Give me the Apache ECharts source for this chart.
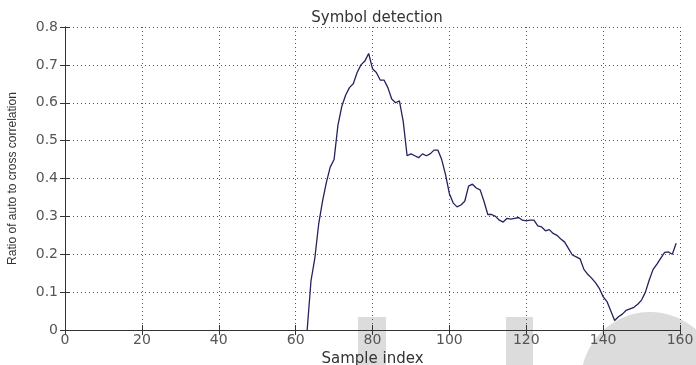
<!DOCTYPE html>
<html>
<head>
<meta charset="utf-8">
<title>Symbol detection</title>
<script src="https://cdn.jsdelivr.net/npm/echarts@6/dist/echarts.min.js"></script>
<style>
  html, body { margin: 0; padding: 0; background: #ffffff; }
  #chart { width: 696px; height: 365px; }
</style>
</head>
<body>
<div id="chart"></div>
<script>
// Sample positions of the detection metric
const sampleIndex = [
  63, 64, 65, 66, 67, 68, 69, 70, 71, 72, 73, 74, 75, 76, 77, 78, 79, 80,
  81, 82, 83, 84, 85, 86, 87, 88, 89, 90, 91, 92, 93, 94, 95, 96, 97, 98,
  99, 100, 101, 102, 103, 104, 105, 106, 107, 108, 109, 110, 111, 112, 113,
  114, 115, 116, 117, 118, 119, 120, 121, 122, 123, 124, 125, 126, 127, 128,
  129, 130, 131, 132, 133, 134, 135, 136, 137, 138, 139, 140, 141, 142, 143,
  144, 145, 146, 147, 148, 149, 150, 151, 152, 153, 154, 155, 156, 157, 158, 159
];

// Ratio of auto- to cross-correlation at each sample
const ratio = [
  0.000, 0.130, 0.190, 0.280, 0.340, 0.390, 0.430, 0.450, 0.540, 0.590,
  0.620, 0.640, 0.650, 0.680, 0.700, 0.710, 0.730, 0.690,
  0.680, 0.660, 0.660, 0.640, 0.610, 0.600, 0.605, 0.550, 0.460, 0.465,
  0.460, 0.455, 0.465, 0.460, 0.465, 0.475, 0.475, 0.450,
  0.410, 0.360, 0.335, 0.325, 0.330, 0.340, 0.380, 0.385, 0.375, 0.370,
  0.340, 0.305, 0.305, 0.300, 0.290,
  0.285, 0.295, 0.293, 0.295, 0.297, 0.290, 0.288, 0.290, 0.290, 0.275,
  0.272, 0.262, 0.265, 0.255, 0.250,
  0.240, 0.232, 0.215, 0.198, 0.193, 0.188, 0.160, 0.147, 0.137, 0.125,
  0.110, 0.088, 0.075, 0.050, 0.025,
  0.035, 0.042, 0.052, 0.056, 0.060, 0.068, 0.079, 0.100, 0.132, 0.160,
  0.174, 0.190, 0.205, 0.206, 0.200, 0.229
];

// Axis tick values
const xTicks = [0, 20, 40, 60, 80, 100, 120, 140, 160];
const yTicks = [0, 0.1, 0.2, 0.3, 0.4, 0.5, 0.6, 0.7, 0.8];

const chart = echarts.init(document.getElementById('chart'), null, { renderer: 'canvas' });

const tickFont = 'DejaVu Sans';
const frameColor = '#333333';

const boxAxis = {
  axisLine: { show: true, lineStyle: { color: frameColor, width: 1 } },
  axisTick: { show: true, inside: true, length: 5, lineStyle: { color: frameColor } },
  axisLabel: { show: false },
  splitLine: { show: false }
};

const option = {
  animation: false,
  backgroundColor: '#ffffff',
  title: {
    text: 'Symbol detection',
    left: 372,
    textAlign: 'center',
    top: 6,
    textStyle: { fontFamily: tickFont, fontSize: 15, fontWeight: 'normal', color: '#333333' }
  },
  grid: { left: 65, right: 16, top: 27, bottom: 35, outerBoundsMode: 'none' },
  graphic: [
    { type: 'rect', z: -10, silent: true, shape: { x: 358, y: 317, width: 28, height: 60 }, style: { fill: '#dcdcdc' } },
    { type: 'rect', z: -10, silent: true, shape: { x: 506, y: 317, width: 27, height: 60 }, style: { fill: '#dcdcdc' } },
    { type: 'circle', z: -10, silent: true, shape: { cx: 650, cy: 381, r: 69 }, style: { fill: '#dcdcdc' } }
  ],
  xAxis: [
    {
      type: 'value',
      position: 'bottom',
      min: xTicks[0],
      max: xTicks[xTicks.length - 1],
      interval: xTicks[1] - xTicks[0],
      name: 'Sample index',
      nameLocation: 'middle',
      nameGap: 17,
      nameTextStyle: { fontFamily: tickFont, fontSize: 15, color: '#333333' },
      axisLine: { show: true, lineStyle: { color: frameColor, width: 1 } },
      axisTick: { show: true, inside: true, length: 5, lineStyle: { color: frameColor } },
      axisLabel: { show: true, margin: 3, fontFamily: tickFont, fontSize: 14, color: '#555555', showMinLabel: true, showMaxLabel: true },
      splitLine: { show: true, lineStyle: { color: '#555555', width: 1, type: [1, 3] } }
    },
    Object.assign({
      type: 'value',
      position: 'top',
      min: xTicks[0],
      max: xTicks[xTicks.length - 1],
      interval: xTicks[1] - xTicks[0]
    }, boxAxis)
  ],
  yAxis: [
    {
      type: 'value',
      position: 'left',
      min: yTicks[0],
      max: yTicks[yTicks.length - 1],
      interval: 0.1,
      name: 'Ratio of auto to cross correlation',
      nameLocation: 'middle',
      nameRotate: 90,
      nameGap: 46,
      nameTextStyle: { fontFamily: 'Liberation Sans Narrow, Liberation Sans, sans-serif', fontSize: 12, color: '#333333' },
      axisLine: { show: true, lineStyle: { color: frameColor, width: 1 } },
      axisTick: { show: true, inside: true, length: 5, lineStyle: { color: frameColor } },
      axisLabel: {
        show: true, margin: 7, fontFamily: tickFont, fontSize: 14, color: '#555555',
        formatter: function (v) { return v === 0 ? '0' : v.toFixed(1); }
      },
      splitLine: { show: true, lineStyle: { color: '#555555', width: 1, type: [1, 3] } }
    },
    Object.assign({
      type: 'value',
      position: 'right',
      min: yTicks[0],
      max: yTicks[yTicks.length - 1],
      interval: 0.1
    }, boxAxis)
  ],
  series: [
    {
      type: 'line',
      xAxisIndex: 0,
      yAxisIndex: 0,
      data: sampleIndex.map(function (x, i) { return [x, ratio[i]]; }),
      showSymbol: false,
      lineStyle: { color: '#22225e', width: 1.3 },
      z: 5
    }
  ]
};

chart.setOption(option);
</script>
</body>
</html>
